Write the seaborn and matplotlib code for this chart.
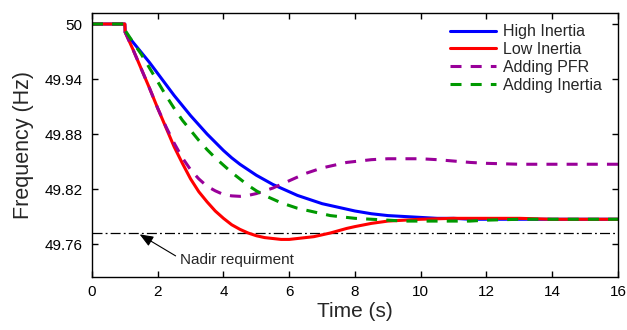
import matplotlib
matplotlib.use('Agg')
import matplotlib.pyplot as plt
from matplotlib.ticker import FuncFormatter
import seaborn as sns
import pandas as pd

# time grid (s) shared by all four cases
time_s = [0, 1, 1.01, 1.25, 1.5, 1.75, 2, 2.25, 2.5, 2.75, 3, 3.25, 3.5, 3.75,
          4, 4.25, 4.5, 4.75, 5, 5.25, 5.5, 5.75, 6, 6.25, 6.5, 6.75, 7, 7.25,
          7.5, 7.75, 8, 8.5, 9, 9.5, 10, 10.5, 11, 11.5, 12, 13, 14, 15, 16]

high_inertia = [50, 50, 49.991,
                49.980, 49.969, 49.958, 49.946, 49.934, 49.922, 49.911, 49.900,
                49.890, 49.880, 49.871, 49.862, 49.854, 49.847, 49.841, 49.835,
                49.830, 49.825, 49.821, 49.817, 49.813, 49.810, 49.807, 49.804,
                49.802, 49.800, 49.798, 49.796,
                49.793, 49.791, 49.790, 49.789, 49.788, 49.788, 49.787,
                49.787, 49.787, 49.787, 49.787, 49.787]

low_inertia = [50, 50, 49.991,
               49.972, 49.951, 49.930, 49.908, 49.887, 49.866, 49.848, 49.831,
               49.817, 49.806, 49.796, 49.788, 49.781, 49.776, 49.772, 49.769,
               49.767, 49.766, 49.765, 49.765, 49.766, 49.767, 49.768, 49.770,
               49.772, 49.7745, 49.777, 49.779,
               49.7825, 49.785, 49.786, 49.787, 49.7875, 49.788, 49.788,
               49.788, 49.788, 49.787, 49.787, 49.787]

adding_pfr = [50, 50, 49.991,
              49.972, 49.951, 49.930, 49.908, 49.888, 49.870, 49.854, 49.841,
              49.831, 49.823, 49.818, 49.814, 49.8125, 49.812, 49.813, 49.815,
              49.818, 49.821, 49.825, 49.829, 49.833, 49.837, 49.840, 49.843,
              49.845, 49.847, 49.849, 49.850,
              49.852, 49.853, 49.853, 49.853, 49.852, 49.8505, 49.849,
              49.848, 49.847, 49.847, 49.847, 49.847]

adding_inertia = [50, 50, 49.993,
                  49.980, 49.967, 49.952, 49.937, 49.922, 49.908, 49.895, 49.884,
                  49.873, 49.863, 49.854, 49.846, 49.838, 49.831, 49.824, 49.818,
                  49.813, 49.809, 49.805, 49.802, 49.799, 49.797, 49.795, 49.793,
                  49.791, 49.790, 49.789, 49.788,
                  49.787, 49.786, 49.785, 49.785, 49.785, 49.785, 49.785,
                  49.786, 49.787, 49.787, 49.787, 49.787]

nadir_req = 49.7717

labels = ['High Inertia', 'Low Inertia', 'Adding PFR', 'Adding Inertia']
series = [high_inertia, low_inertia, adding_pfr, adding_inertia]

df = pd.concat([pd.DataFrame({'t': time_s, 'f': vals, 'case': name})
                for name, vals in zip(labels, series)], ignore_index=True)

sns.set_style('ticks')
plt.rcParams['font.family'] = ['Liberation Sans', 'DejaVu Sans']

fig = plt.figure(figsize=(6.27, 3.3), dpi=100)
ax = fig.add_axes([0.1467, 0.1606, 0.8389, 0.80])

palette = {'High Inertia': '#0000ff', 'Low Inertia': '#ff0000',
           'Adding PFR': '#990099', 'Adding Inertia': '#009900'}
dashes = {'High Inertia': '', 'Low Inertia': '',
          'Adding PFR': (3.6, 3.0), 'Adding Inertia': (3.6, 3.0)}

sns.lineplot(data=df, x='t', y='f', hue='case', style='case',
             hue_order=labels, style_order=labels, palette=palette,
             dashes=dashes, linewidth=2.2, sort=False, estimator=None, ax=ax)

ax.axhline(nadir_req, color='black', lw=0.9, linestyle=(0, (8, 2.5, 1.5, 2.5)),
           zorder=1)

ax.annotate('Nadir requirment', xy=(1.45, 49.7705), xytext=(2.68, 49.7426),
            fontsize=11, ha='left', va='center',
            arrowprops=dict(arrowstyle='-|>,head_length=0.55,head_width=0.22',
                            color='black', lw=0.8, mutation_scale=15,
                            relpos=(0, 0.6), shrinkA=1, shrinkB=0))

ax.set_xlim(0, 16)
ax.set_ylim(49.724, 50.012)
ax.set_xticks(range(0, 17, 2))
ax.set_yticks([49.76, 49.82, 49.88, 49.94, 50.0])
ax.yaxis.set_major_formatter(FuncFormatter(lambda v, p: f'{v:g}'))
ax.tick_params(direction='in', top=True, right=True, length=4, width=1,
               labelsize=11, colors='black')
ax.tick_params(axis='x', pad=6)
ax.tick_params(axis='y', pad=7)
for sp in ax.spines.values():
    sp.set_color('black')
    sp.set_linewidth(1)

ax.set_xlabel('Time (s)', fontsize=15, labelpad=2)
ax.set_ylabel('Frequency (Hz)', fontsize=15.5, labelpad=7)

handles, _ = ax.get_legend_handles_labels()
ax.legend(handles, labels, loc='upper right', bbox_to_anchor=(0.99, 1.0),
          frameon=False, fontsize=11.5, handlelength=2.9, handletextpad=0.4,
          labelspacing=0.18, borderaxespad=0.3)

fig.savefig('out.png', dpi=100, facecolor='white')
plt.close(fig)
